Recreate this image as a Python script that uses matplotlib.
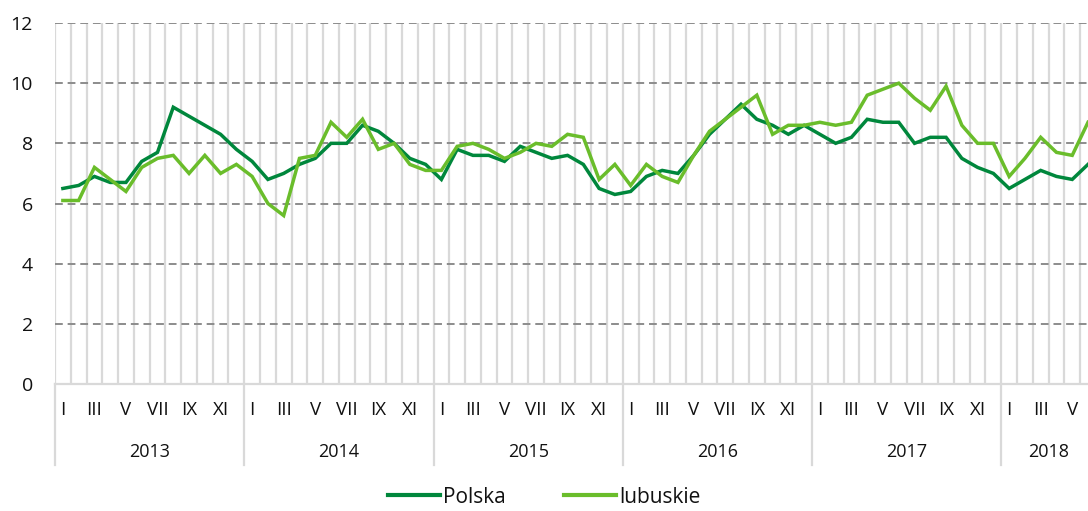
import numpy as np
import matplotlib.pyplot as plt
from matplotlib.lines import Line2D
from matplotlib.ticker import FixedLocator
import matplotlib.transforms as mtransforms

plt.rcParams['font.family'] = ['Open Sans', 'DejaVu Sans']

# Monthly data, I 2013 - VI 2018
years = ['2013', '2014', '2015', '2016', '2017', '2018']
month_labels = ['I', '', 'III', '', 'V', '', 'VII', '', 'IX', '', 'XI', '']

polska = [
    6.5, 6.6, 6.9, 6.7, 6.7, 7.4, 7.7, 9.2, 8.9, 8.6, 8.3, 7.8,
    7.4, 6.8, 7.0, 7.3, 7.5, 8.0, 8.0, 8.6, 8.4, 8.0, 7.5, 7.3,
    6.8, 7.8, 7.6, 7.6, 7.4, 7.9, 7.7, 7.5, 7.6, 7.3, 6.5, 6.3,
    6.4, 6.9, 7.1, 7.0, 7.6, 8.3, 8.8, 9.3, 8.8, 8.6, 8.3, 8.6,
    8.3, 8.0, 8.2, 8.8, 8.7, 8.7, 8.0, 8.2, 8.2, 7.5, 7.2, 7.0,
    6.5, 6.8, 7.1, 6.9, 6.8, 7.3,
]
lubuskie = [
    6.1, 6.1, 7.2, 6.8, 6.4, 7.2, 7.5, 7.6, 7.0, 7.6, 7.0, 7.3,
    6.9, 6.0, 5.6, 7.5, 7.6, 8.7, 8.2, 8.8, 7.8, 8.0, 7.3, 7.1,
    7.1, 7.9, 8.0, 7.8, 7.5, 7.7, 8.0, 7.9, 8.3, 8.2, 6.8, 7.3,
    6.6, 7.3, 6.9, 6.7, 7.6, 8.4, 8.8, 9.2, 9.6, 8.3, 8.6, 8.6,
    8.7, 8.6, 8.7, 9.6, 9.8, 10.0, 9.5, 9.1, 9.9, 8.6, 8.0, 8.0,
    6.9, 7.5, 8.2, 7.7, 7.6, 8.7,
]

dark_green = '#00873c'
light_green = '#6abd2b'
text_color = '#111111'
x = np.arange(len(polska))

fig = plt.figure(figsize=(10.88, 5.11), dpi=100)
ax = fig.add_axes([55 / 1088, 1 - 384 / 511, 1 - 55 / 1088, 361 / 511])

ax.plot(x, polska, color=dark_green, lw=2.5, zorder=3, solid_joinstyle='miter')
ax.plot(x, lubuskie, color=light_green, lw=2.5, zorder=4, solid_joinstyle='miter')

# grid: dashed horizontals, light verticals on month boundaries
ax.set_yticks(np.arange(0, 13, 2))
ax.xaxis.set_major_locator(FixedLocator(np.arange(-0.5, len(x), 1)))
ax.set_xticklabels([])
ax.tick_params(axis='x', length=0)
ax.tick_params(axis='y', length=0, pad=16, labelsize=14, labelcolor=text_color)
ax.grid(axis='x', color='#d9d9d9', lw=1.6, zorder=1)
for yv in range(2, 13, 2):
    ax.axhline(yv, color='#8c8c8c', lw=1.4, ls=(0, (4, 2.5)), zorder=2)

ax.set_xlim(-0.5, len(x) - 1)
ax.set_ylim(0, 12)

for s in ['top', 'right', 'left']:
    ax.spines[s].set_visible(False)
ax.spines['bottom'].set_color('#d9d9d9')
ax.spines['bottom'].set_linewidth(1.6)

# month and year labels below the axis
trans = mtransforms.blended_transform_factory(ax.transData, ax.transAxes)
month_y = -(410 - 384) / 361
year_y = -(452 - 384) / 361
sep_y = -(465 - 384) / 361
for i in range(len(x)):
    lab = month_labels[i % 12]
    if lab:
        ax.text(i, month_y, lab, transform=trans, ha='center', va='center',
                fontsize=13.5, color=text_color)
for k, yr in enumerate(years):
    start = k * 12 - 0.5
    end = min(start + 12, len(x) - 0.5)
    ax.text((start + end) / 2, year_y, yr, transform=trans, ha='center',
            va='center', fontsize=13, color=text_color)
    ax.add_line(Line2D([start, start], [0, sep_y], transform=trans,
                       color='#d9d9d9', lw=1.6, clip_on=False))

handles = [Line2D([], [], color=dark_green, lw=3),
           Line2D([], [], color=light_green, lw=3)]
leg = fig.legend(handles, ['Polska', 'lubuskie'], loc='center',
                 bbox_to_anchor=(0.5, 1 - 497 / 511), ncol=2, frameon=False,
                 fontsize=15, handlelength=2.5, handletextpad=0.15,
                 columnspacing=2.8)
for t in leg.get_texts():
    t.set_color(text_color)

fig.savefig('out.png', dpi=100)
